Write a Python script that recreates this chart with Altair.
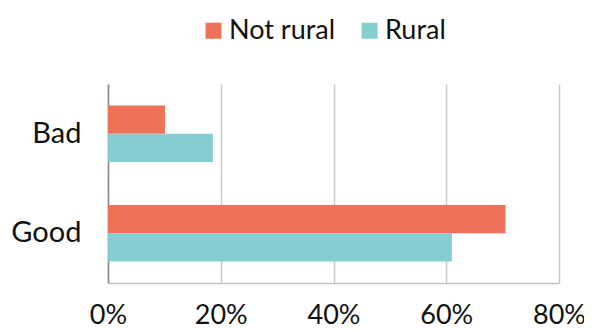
import altair as alt
import pandas as pd

categories = ["Bad", "Good"]
groups = ["Not rural", "Rural"]
not_rural = [10.1, 70.5]
rural = [18.6, 61.0]
x_ticks = [0, 20, 40, 60, 80]
colors = ["#EF7157", "#84CDD0"]

rows = []
for i, c in enumerate(categories):
    rows.append({"cat": c, "group": groups[0], "value": not_rural[i] / 100})
    rows.append({"cat": c, "group": groups[1], "value": rural[i] / 100})
df = pd.DataFrame(rows)

FONT = "Lato"

chart = alt.Chart(df).mark_bar().encode(
    y=alt.Y(
        "cat:N", sort=categories, title=None,
        scale=alt.Scale(paddingInner=0.43, paddingOuter=0.215),
        axis=alt.Axis(labelFontSize=29, labelPadding=27, ticks=False,
                      domainColor="#8a8a8a", domainWidth=1.5,
                      labelColor="#111111", labelFont=FONT, grid=False),
    ),
    x=alt.X(
        "value:Q", title=None,
        scale=alt.Scale(domain=[0, 0.8], nice=False),
        axis=alt.Axis(values=[v / 100 for v in x_ticks], format=".0%",
                      labelFontSize=27, labelPadding=19, ticks=False,
                      labelFlush=False, labelOverlap=False,
                      domainColor="#c0c0c0", domainWidth=1.5,
                      grid=True, gridColor="#c8c8c8", gridWidth=1.5,
                      labelColor="#111111", labelFont=FONT),
    ),
    yOffset=alt.YOffset("group:N", sort=groups),
    color=alt.Color(
        "group:N",
        scale=alt.Scale(domain=groups, range=colors),
        legend=alt.Legend(title=None, orient="none", direction="horizontal",
                          legendX=92, legendY=-67,
                          symbolType="square", symbolSize=256,
                          symbolStrokeWidth=0, symbolOpacity=1,
                          labelFontSize=27, labelFont=FONT, labelColor="#111111",
                          labelOffset=2, columnPadding=20),
    ),
).properties(
    width=451, height=199,
    autosize=alt.AutoSizeParams(type="none"),
    padding={"left": 100, "top": 76, "right": 25, "bottom": 44},
).configure_view(stroke=None)

chart.save("out.html", embed_options={"renderer": "svg", "actions": False})
